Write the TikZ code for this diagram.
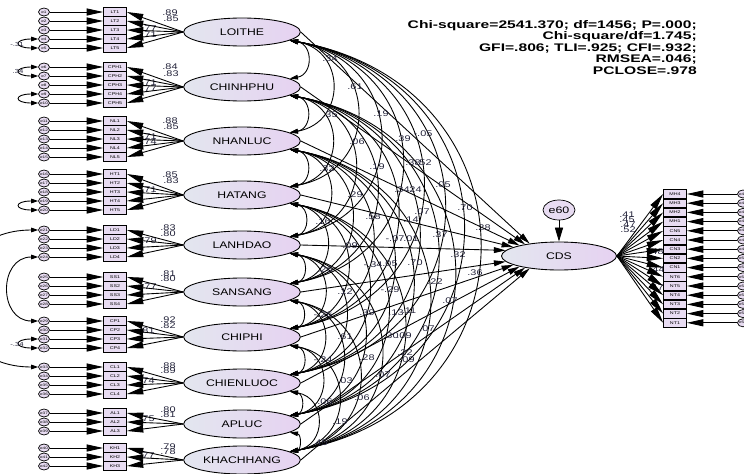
\documentclass[tikz,border=0pt]{standalone}
\usepackage{fontspec}
\setmainfont{Liberation Sans}
\usepackage{graphicx}
\usetikzlibrary{arrows.meta,shapes.geometric}

\definecolor{latL}{HTML}{E3E6EF}
\definecolor{latR}{HTML}{E6D2F1}
\definecolor{itemfill}{HTML}{E8DCF2}
\definecolor{numcol}{HTML}{23233A}

% AMOS output is stretched sideways
\newcommand{\wide}[1]{\scalebox{1.33}[1]{#1}}

\begin{document}
\begin{tikzpicture}[x=0.03cm, y=-0.03cm,
  latent/.style={ellipse, draw, line width=0.75pt, left color=latL, right color=latR,
    minimum width=3.5cm, minimum height=0.84cm, inner sep=0pt, font=\fontsize{8.2}{9}\selectfont},
  item/.style={draw, line width=0.6pt, fill=itemfill, minimum width=0.69cm, minimum height=0.26cm,
    inner sep=0pt, font=\fontsize{3.4}{4}\selectfont},
  err/.style={ellipse, draw, line width=0.6pt, fill=itemfill, minimum width=0.33cm,
    minimum height=0.24cm, inner sep=0pt, font=\fontsize{3}{3}\selectfont},
  load/.style={-{Triangle[length=14pt,width=6pt]}, line width=0.75pt},
  reg/.style={-{Triangle[length=10pt,width=5pt]}, line width=0.75pt},
  cov/.style={{Triangle[length=7pt,width=4pt]}-{Triangle[length=7pt,width=4pt]}, line width=0.75pt},
  ecov/.style={{Triangle[length=6pt,width=4pt]}-{Triangle[length=6pt,width=4pt]}, line width=0.75pt},
  coef/.style={font=\fontsize{7}{7}\selectfont, text=numcol, inner sep=0pt}
]
\path[use as bounding box, clip] (0,0) rectangle (744,474);

% standardized loadings (left block)
\foreach \t/\x/\y [count=\i] in {.89/170/13, .85/171/19, .77/149/29, .71/149/35,
    .84/170/67, .83/171/74, .71/149/83, .77/149/89,
    .88/170/121, .85/171/127, .71/149/137, .74/149/142,
    .85/170/175, .83/171/181, .71/149/190,
    .83/168/228, .80/168/234, .79/149/241,
    .81/168/274, .80/168/279, .77/149/287,
    .92/168/320, .82/168/326, .81/147/331,
    .88/168/366, .89/168/371, .74/147/381,
    .80/168/410, .81/168/415, .75/147/419,
    .79/168/447, .78/168/452, .77/147/456}
  \node[coef] (l\i) at (\x,\y) {\wide{\t}};

% constructs with their items and error terms
\foreach \lat/\ly/\pre/\n/\top/\eo in {LOITHE/32/LT/5/12/0, CHINHPHU/87/CPH/5/67/5,
    NHANLUC/141/NL/5/121/10, HATANG/195/HT/5/174/15, LANHDAO/245/LD/4/230/20,
    SANSANG/292/SS/4/277/24, CHIPHI/337/CP/4/321/28, CHIENLUOC/383/CL/4/367/32,
    APLUC/424/AL/3/413/36, KHACHHANG/460/KH/3/448/39}{
  \node[latent] (\lat) at (242,\ly) {\scalebox{1.27}[1]{\lat}};
  \foreach \k in {1,...,\n}{
    \pgfmathtruncatemacro{\e}{\eo+\k}
    \node[item] (\pre\k) at (115,\top+9*\k-9) {\wide{\pre\k}};
    \node[err] (e\e) at (44,\top+9*\k-9) {\wide{e\e}};
    \draw[load] (e\e) -- (\pre\k);
    \draw[load] (\lat.west) -- (\pre\k.east);
  }
}

% correlated errors
\draw[ecov] (e4.west) to[out=180, in=180, looseness=7] (e5.west);
\draw[ecov] (e6.west) to[out=180, in=180, looseness=7] (e7.west);
\draw[ecov] (e9.west) to[out=180, in=180, looseness=7] (e10.west);
\draw[ecov] (e19.west) to[out=180, in=180, looseness=7] (e20.west);
\draw[ecov] (e31.west) to[out=180, in=180, looseness=7] (e32.west);
\draw[ecov] (e24.west) to[out=180, in=180, looseness=1.6] (e29.west);
\draw[ecov] (e21.west) to[out=180, in=180, looseness=2] (e33.west);
\node[coef, font=\fontsize{5}{5}\selectfont] (c1) at (17,44) {\wide{-.31}};
\node[coef, font=\fontsize{5}{5}\selectfont] (c2) at (18,71) {\wide{.34}};
\node[coef, font=\fontsize{5}{5}\selectfont] (c3) at (17,344) {\wide{-.34}};

% dependent construct
\node[latent, minimum width=3.45cm] (CDS) at (559,256) {\scalebox{1.27}[1]{CDS}};
\node[err, minimum width=0.96cm, minimum height=0.6cm, font=\fontsize{8}{8}\selectfont] (e60) at (559,210) {\wide{e60}};
\draw[-{Triangle[length=12pt,width=7pt]}, line width=0.75pt] (e60) -- (CDS);

\foreach \t/\x/\y [count=\i] in {.41/627/215, .45/627/220, .47/628/225, .52/628/230,
    .48/656/252, .44/657/270, .47/656/288}
  \node[coef] (m\i) at (\x,\y) {\wide{\t}};

\foreach \lab [count=\k] in {MH4,MH3,MH2,MH1,CN5,CN4,CN3,CN2,CN1,NT6,NT5,NT4,NT3,NT2,NT1}{
  \pgfmathtruncatemacro{\e}{42+\k}
  \node[item] (\lab) at (675,194+9.2*\k-9.2) {\wide{\lab}};
  \node[err] (e\e) at (743,194+9.2*\k-9.2) {\wide{e\e}};
  \draw[load] (e\e) -- (\lab);
  \draw[load] (CDS.east) -- (\lab.west);
}

% correlations among constructs
\def\constructs{LOITHE,CHINHPHU,NHANLUC,HATANG,LANHDAO,SANSANG,CHIPHI,CHIENLUOC,APLUC,KHACHHANG}
\foreach \a [count=\i] in \constructs {
  \foreach \b [count=\j] in \constructs {
    \ifnum\j>\i
      \draw[cov] (\a.-10) to[out=-10, in=10, looseness=1.6] (\b.10);
    \fi
  }
}

% paths into CDS
\foreach \a/\ang in {LOITHE/157, CHINHPHU/161, NHANLUC/165, HATANG/169, LANHDAO/174,
    SANSANG/186, CHIPHI/191, CHIENLUOC/195, APLUC/199, KHACHHANG/203}
  \draw[reg] (\a.east) -- (CDS.\ang);

\foreach \t/\x/\y [count=\i] in {.34/330/59, .61/355/87, .35/330/115, .19/381/114,
    .39/403/139, -.05/423/134, .06/357/142, .32/327/169, .19/377/167, .38/413/163,
    .52/424/163, .29/355/195, .34/402/190, .24/414/190, .05/443/185, .70/465/208,
    .58/373/217, .14/411/220, .07/422/212, .28/483/228, .16/323/222, -.07/395/239,
    .01/411/239, .37/440/235, .09/350/246, .32/458/255, -.34/373/265, .05/390/264,
    .70/415/263, .26/325/270, .36/475/273, .22/435/282, .12/345/292, -.29/390/290,
    .07/450/301, -.26/323/315, .39/367/313, .13/396/313, .11/409/311, .07/427/329,
    .61/345/337, .30/391/336, .09/404/336, .22/405/353, .09/407/360, .28/367/358,
    -.24/323/360, .07/383/375, .03/345/381, .06/362/398, .06/325/402, .19/340/422,
    .45/320/443}
  \node[coef] (r\i) at (\x,\y) {\wide{\t}};

% fit indices
\node[anchor=north east, inner sep=0pt, font=\bfseries\fontsize{9.4}{9.8}\selectfont] (fit) at (697,20)
  {\scalebox{1.42}[1]{\begin{tabular}{@{}r@{}}
    Chi-square=2541.370; df=1456; P=.000;\\
    Chi-square/df=1.745;\\
    GFI=.806; TLI=.925; CFI=.932;\\
    RMSEA=.046;\\
    PCLOSE=.978
  \end{tabular}}};
\end{tikzpicture}
\end{document}
